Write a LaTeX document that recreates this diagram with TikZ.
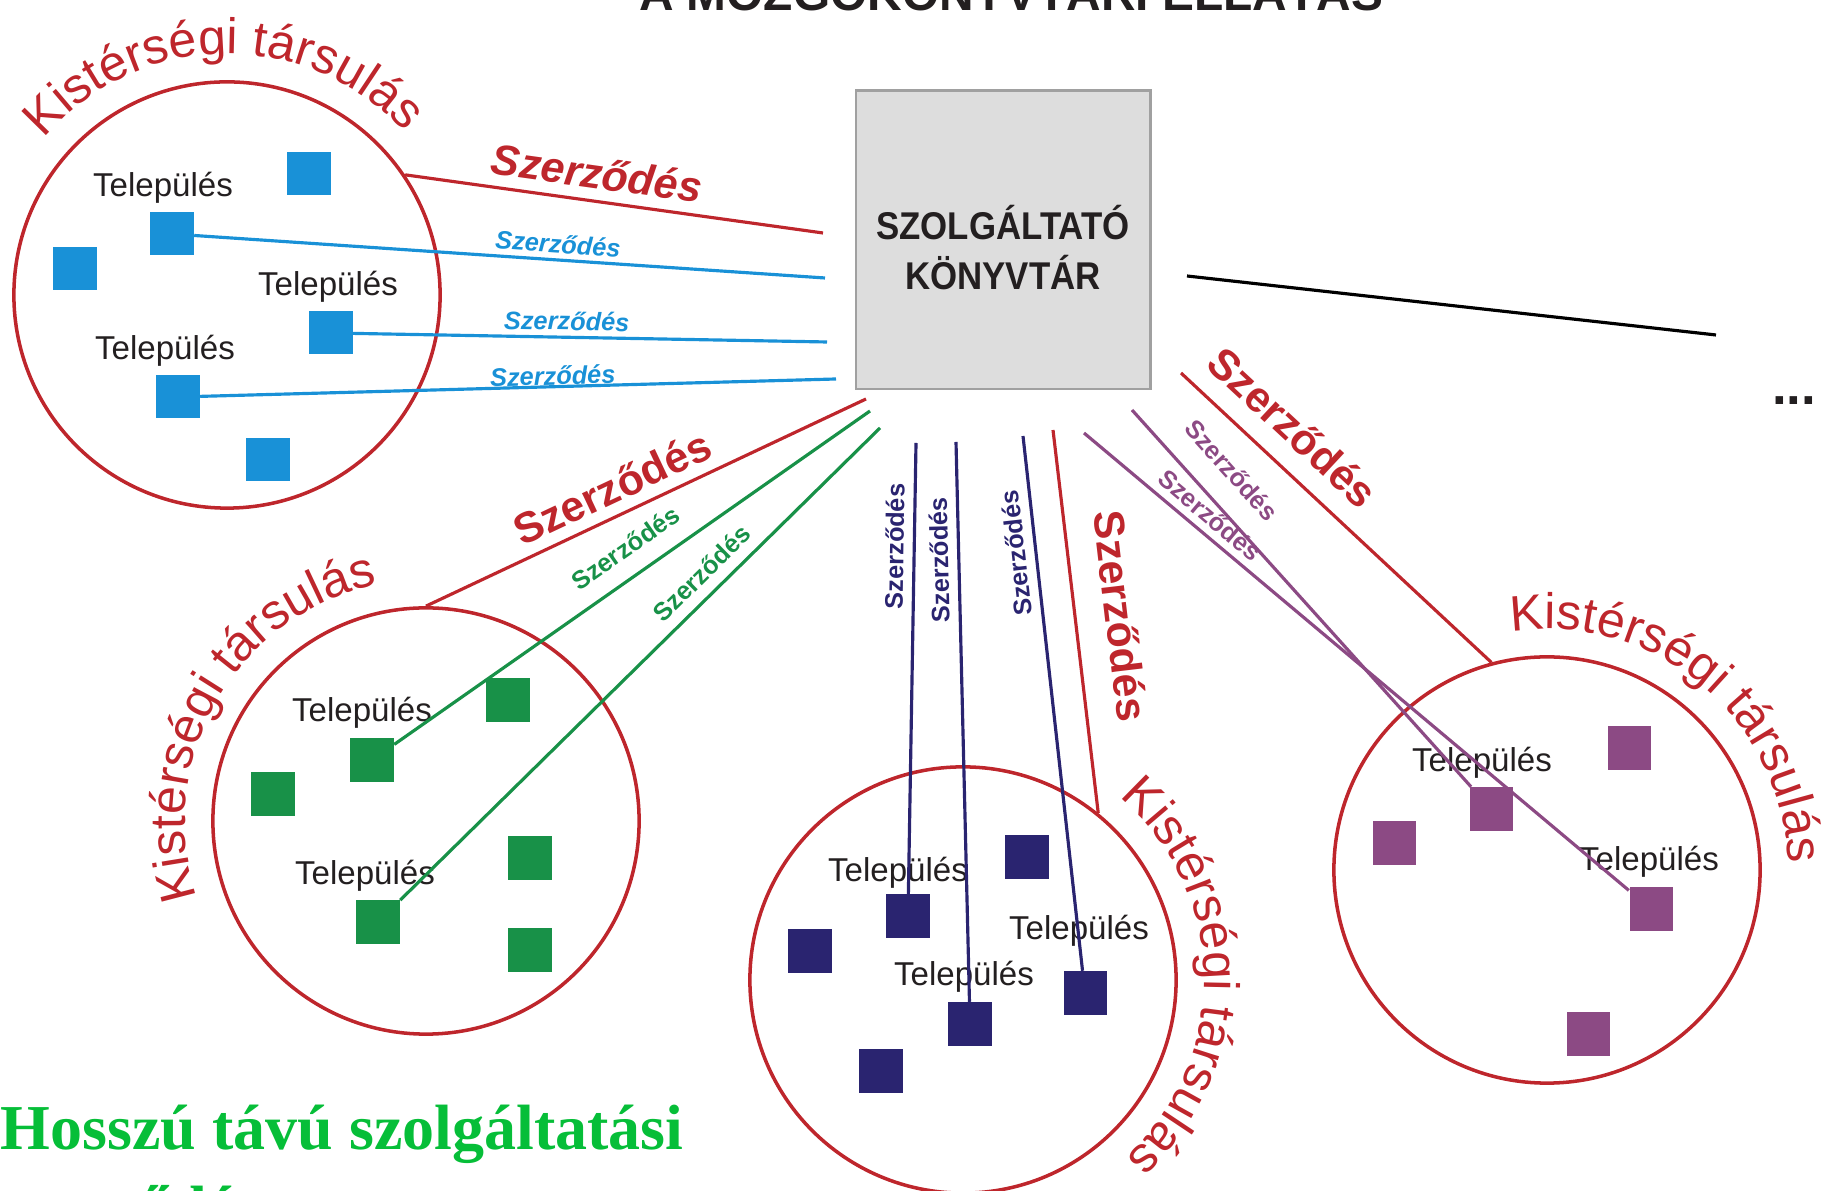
\documentclass[tikz,border=0pt]{standalone}
\usepackage{fontspec}
\setmainfont{Liberation Sans}
\newfontfamily\hosszufont{Liberation Serif}
\newfontfamily\keskenyfont{Liberation Sans}[FakeStretch=0.9]
\usetikzlibrary{decorations.text}

\definecolor{piros}{RGB}{190,38,44}
\definecolor{kek}{RGB}{25,145,215}
\definecolor{zold}{RGB}{24,145,72}
\definecolor{sotetkek}{RGB}{42,36,112}
\definecolor{lila}{RGB}{140,74,132}
\definecolor{szurke}{RGB}{221,221,221}
\definecolor{keret}{RGB}{160,160,160}
\definecolor{sotet}{RGB}{35,31,32}
\definecolor{elenk}{RGB}{6,190,56}

\newcommand\kisterfont{\fontsize{14.2}{17}\selectfont}

\tikzset{
  kor/.style={circle, draw=piros, line width=1pt, minimum size=4.26cm, inner sep=0pt},
  kocka/.style={fill=#1, minimum size=0.43cm, inner sep=0pt},
  telep/.style={text=sotet, font=\fontsize{9.4}{11}\selectfont, inner sep=0pt},
  vonal/.style={draw=#1, line width=0.9pt},
  kisszerz/.style={text=#1, font=\fontsize{7.2}{9}\selectfont\bfseries, sloped, inner sep=1.5pt},
  nagyszerz/.style={text=piros, font=\fontsize{12.2}{14}\selectfont\bfseries, sloped, inner sep=2pt},
  hosszu/.style={font=\hosszufont\fontsize{18.2}{21}\selectfont\bfseries, text=elenk, anchor=base west, inner sep=0pt},
  kistersegi/.style={decorate, decoration={text along path, text align=center, text color=piros,
      text={|\kisterfont|Kistérségi társulás}}}
}

\begin{document}
\begin{tikzpicture}[x=0.01cm, y=0.01cm]
\useasboundingbox (0,0) rectangle (1839,1191);
\clip (0,0) rectangle (1839,1191);

% cim, felul levagva
\node[font=\fontsize{13.6}{16}\selectfont\bfseries, text=sotet, anchor=base] (cim) at (1011,1180) {A MOZGÓKÖNYVTÁRI ELLÁTÁS};

% szolgaltato konyvtar
\node[draw=keret, fill=szurke, line width=0.8pt, minimum width=2.94cm, minimum height=2.98cm] (kvt) at (1003,951) {};
\node[align=center, font=\keskenyfont\fontsize{11}{14.2}\selectfont\bfseries, text=sotet] (kvtnev) at (1003,943) {SZOLGÁLTATÓ\\KÖNYVTÁR};

% tarsulasok
\node[kor] (c1) at (227,896) {};
\node[kor] (c2) at (426,370) {};
\node[kor] (c3) at (963,211) {};
\node[kor] (c4) at (1547,321) {};
\path[kistersegi] (c1.center) ++(181:241) arc[start angle=181, end angle=1, radius=241];
\path[kistersegi] (c2.center) ++(240:241) arc[start angle=240, end angle=60, radius=241];
\path[kistersegi] (c3.center) ++(91:241) arc[start angle=91, end angle=-89, radius=241];
\path[kistersegi] (c4.center) ++(140:241) arc[start angle=140, end angle=-40, radius=241];

% telepulesek
\node[kocka=kek] (b1) at (309,1017) {};
\node[kocka=kek] (b2) at (172,957) {};
\node[kocka=kek] (b3) at (75,922) {};
\node[kocka=kek] (b4) at (331,858) {};
\node[kocka=kek] (b5) at (178,794) {};
\node[kocka=kek] (b6) at (268,731) {};
\node[telep] (tb1) at (163,1003) {Település};
\node[telep] (tb2) at (328,904) {Település};
\node[telep] (tb3) at (165,840) {Település};

\node[kocka=zold] (g1) at (508,491) {};
\node[kocka=zold] (g2) at (372,431) {};
\node[kocka=zold] (g3) at (273,397) {};
\node[kocka=zold] (g4) at (530,333) {};
\node[kocka=zold] (g5) at (378,269) {};
\node[kocka=zold] (g6) at (530,241) {};
\node[telep] (tg1) at (362,478) {Település};
\node[telep] (tg2) at (365,315) {Település};

\node[kocka=sotetkek] (n1) at (1027,334) {};
\node[kocka=sotetkek] (n2) at (908,275) {};
\node[kocka=sotetkek] (n3) at (810,240) {};
\node[kocka=sotetkek] (n4) at (1085,198) {};
\node[kocka=sotetkek] (n5) at (970,167) {};
\node[kocka=sotetkek] (n6) at (881,120) {};
\node[telep] (tn1) at (898,318) {Település};
\node[telep] (tn2) at (1079,260) {Település};
\node[telep] (tn3) at (964,214) {Település};

\node[kocka=lila] (l1) at (1629,443) {};
\node[kocka=lila] (l2) at (1491,382) {};
\node[kocka=lila] (l3) at (1394,348) {};
\node[kocka=lila] (l4) at (1651,282) {};
\node[kocka=lila] (l5) at (1588,157) {};
\node[telep] (tl1) at (1482,428) {Település};
\node[telep] (tl2) at (1649,329) {Település};

% vonalvegek a konyvtar mellett
\coordinate (kp1) at (823,958);
\coordinate (kb1) at (825,913);
\coordinate (kb2) at (827,849);
\coordinate (kb3) at (836,812);
\coordinate (kp2) at (866,792);
\coordinate (kg1) at (870,780);
\coordinate (kg2) at (880,763);
\coordinate (kn1) at (916,748);
\coordinate (kn2) at (956,749);
\coordinate (kn3) at (1023,755);
\coordinate (kp3) at (1053,761);
\coordinate (kl1) at (1132,781);
\coordinate (kl2) at (1084,758);
\coordinate (kp4) at (1181,818);
\coordinate (fk1) at (1187,915);
\coordinate (fk2) at (1716,856);

% szerzodesek
\draw[vonal=piros] (c1.34) -- node[nagyszerz, pos=0.45, above, inner sep=3pt] {\itshape Szerződés} (kp1);
\draw[vonal=kek] (b2) -- node[kisszerz=kek, pos=0.575, above] {\itshape Szerződés} (kb1);
\draw[vonal=kek] (b4) -- node[kisszerz=kek, pos=0.45, above] {\itshape Szerződés} (kb2);
\draw[vonal=kek] (b5) -- node[kisszerz=kek, pos=0.555, above, inner sep=0pt] {\itshape Szerződés} (kb3);

\draw[vonal=piros] (c2.90) -- node[nagyszerz, pos=0.45, above, inner sep=3pt] {Szerződés} (kp2);
\draw[vonal=zold] (g2) -- node[kisszerz=zold, pos=0.52, above, inner sep=5pt] {Szerződés} (kg1);
\draw[vonal=zold] (g5) -- node[kisszerz=zold, pos=0.66, above, inner sep=3pt] {Szerződés} (kg2);

\draw[vonal=sotetkek] (n2) -- node[kisszerz=sotetkek, allow upside down, pos=0.77, above, inner sep=2.5pt] {Szerződés} (kn1);
\draw[vonal=sotetkek] (n5) -- node[kisszerz=sotetkek, allow upside down, pos=0.79, above, inner sep=2.5pt] {Szerződés} (kn2);
\draw[vonal=sotetkek] (n4) -- node[kisszerz=sotetkek, allow upside down, pos=0.785, above, inner sep=2.5pt] {Szerződés} (kn3);
\draw[vonal=piros] (kp3) -- node[nagyszerz, pos=0.5, above, inner sep=8pt] {Szerződés} (c3.51);

\draw[vonal=lila] (kl1) -- node[kisszerz=lila, pos=0.22, above, inner sep=6.5pt] {Szerződés} (l2);
\draw[vonal=lila] (kl2) -- node[kisszerz=lila, pos=0.21, above, inner sep=2pt] {Szerződés} (l4);
\draw[vonal=piros] (kp4) -- node[nagyszerz, pos=0.28, above, inner sep=5.5pt] {Szerződés} (c4.105);

\draw[vonal=black] (fk1) -- (fk2);
\node[font=\fontsize{15}{18}\selectfont\bfseries, text=sotet] (pontok) at (1794,790) {...};

% also felirat
\node[hosszu] (hossz1) at (0,41) {Hosszú távú szolgáltatási};
\node[hosszu] (hossz2) at (0,-40) {szerződés};
\end{tikzpicture}
\end{document}
